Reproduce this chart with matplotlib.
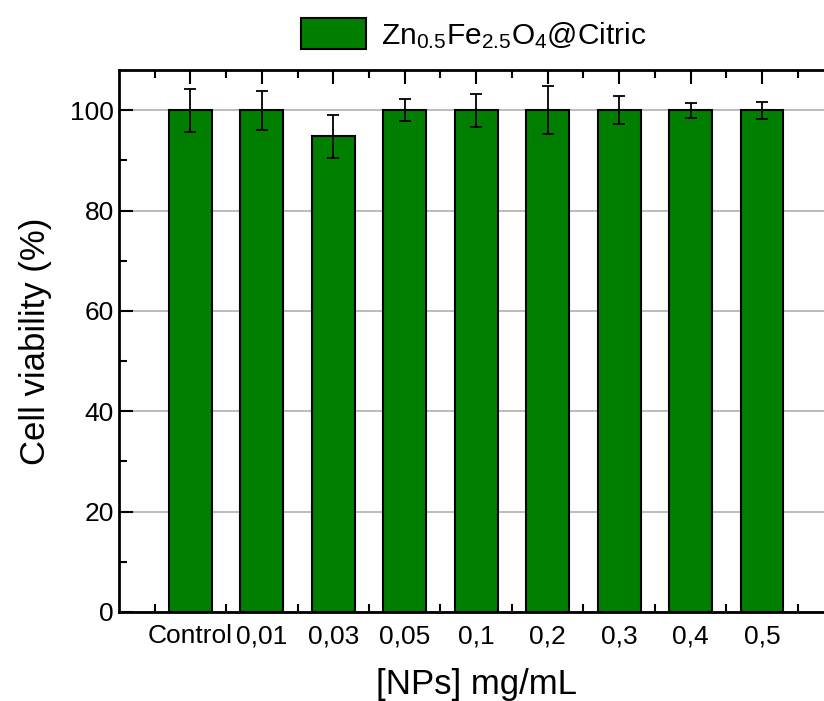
import numpy as np
import matplotlib.pyplot as plt
from matplotlib.ticker import MultipleLocator

plt.rcParams['font.family'] = ['Liberation Sans', 'DejaVu Sans']
plt.rcParams['mathtext.default'] = 'regular'

labels = ['Control', '0,01', '0,03', '0,05', '0,1', '0,2', '0,3', '0,4', '0,5']
viability = [100, 100, 94.8, 100, 100, 100, 100, 100, 100]
errors = [4.3, 3.9, 4.3, 2.2, 3.3, 4.8, 2.75, 1.5, 1.7]
legend_label = r'Zn$_{0.5}$Fe$_{2.5}$O$_4$@Citric'

fig = plt.figure(figsize=(8.24, 7.01), dpi=100)
ax = fig.add_axes([0.1444, 0.127, 0.867, 0.773])

x = np.arange(1, len(labels) + 1)
ax.bar(x, viability, width=0.6, color='#007f00', edgecolor='black',
       linewidth=1.5, label=legend_label, zorder=2)
ax.errorbar(x, viability, yerr=errors, fmt='none', ecolor='black',
            elinewidth=1.3, capsize=4.5, capthick=1.3, zorder=3)

ax.set_xlim(0, 10)
ax.set_ylim(0, 108)
ax.set_xticks(x)
ax.set_xticklabels(labels, fontsize=19)
ax.xaxis.set_minor_locator(plt.FixedLocator(np.arange(0.5, 10, 1)))
ax.yaxis.set_major_locator(MultipleLocator(20))
ax.yaxis.set_minor_locator(MultipleLocator(10))
ax.grid(axis='y', which='major', color='#b0b0b0', linewidth=1.2, zorder=0)
ax.set_axisbelow(True)

ax.tick_params(axis='both', which='major', direction='in', length=10, width=1.5,
               top=True)
ax.tick_params(axis='y', which='major', labelsize=19)
ax.tick_params(axis='both', which='minor', direction='in', length=6, width=1.5, top=True)
ax.tick_params(axis='x', which='major', pad=9)
for s in ['left', 'bottom', 'top']:
    ax.spines[s].set_linewidth(2)
ax.spines['right'].set_visible(False)

ax.set_ylabel('Cell viability (%)', fontsize=25, labelpad=13)
ax.set_xlabel('[NPs] mg/mL', fontsize=25, labelpad=14)

fig.legend(loc='upper center', bbox_to_anchor=(0.575, 1.012), frameon=False,
           fontsize=21.5, handlelength=2.2, handleheight=1.2, handletextpad=0.5)

plt.savefig('out.png', dpi=100)
